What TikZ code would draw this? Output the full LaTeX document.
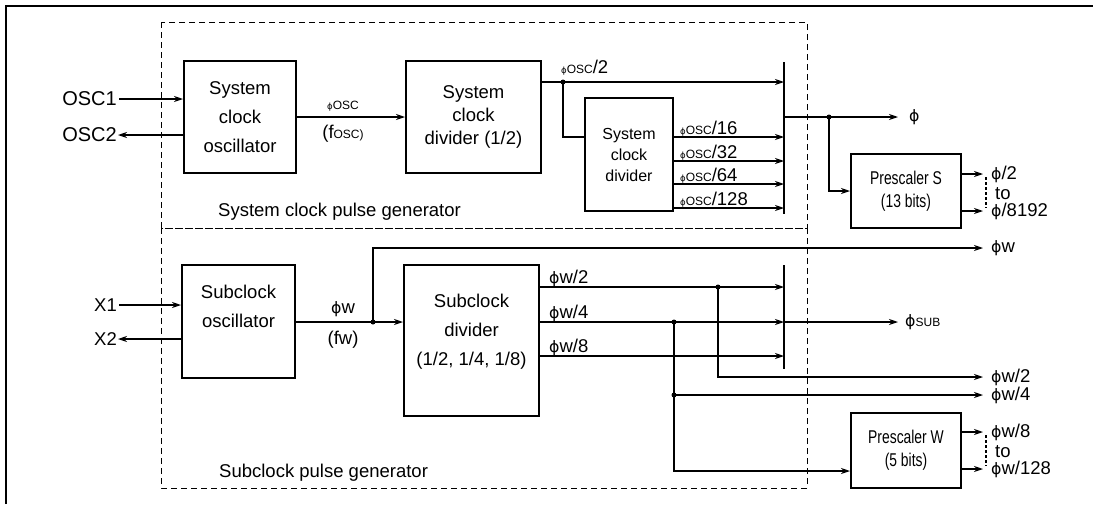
\documentclass[tikz,border=0pt]{standalone}
\usepackage{fontspec}
\setmainfont{Liberation Sans}
\newfontfamily\phifont[Scale=0.85]{DejaVu Sans}
\newfontfamily\condfont[FakeStretch=0.75]{Liberation Sans}
\usetikzlibrary{arrows.meta}
\newcommand\ph{{\phifont ϕ}}
\newcommand\tinyph{{\fontsize{10}{11}\selectfont\phifont ϕ}}
\newcommand\osc{{\fontsize{12}{13}\selectfont OSC}}
\begin{document}
\begin{tikzpicture}[x=1pt,y=-1pt,font=\fontsize{18.5}{23}\selectfont,
  blk/.style={draw,line width=2pt,align=center,inner sep=0pt},
  arr/.style={-{Stealth[length=9pt,width=6pt]},line width=1.1pt},
  wire/.style={line width=1.1pt},
  dot/.style={circle,fill,inner sep=0pt,minimum size=5pt},
  lbl/.style={inner sep=0pt},
  area/.style={dash pattern=on 6pt off 4pt,line width=1pt}]
  \useasboundingbox (0,0) rectangle (1093,504);
  \draw[line width=2.4pt] (6,504) -- (6,6) -- (1093,6);

  \draw[area] (161,22) rectangle (807,228);
  \draw[area] (161,228) rectangle (807,488);

  % system clock
  \node[blk,minimum width=112pt,minimum height=112pt,font=\fontsize{18.5}{29}\selectfont] (sosc) at (240,117) {System\\clock\\oscillator};
  \node[blk,minimum width=135pt,minimum height=112pt] (sdiv2) at (473.5,117) {System\\clock\\divider (1/2)};
  \node[blk,minimum width=88pt,minimum height=113pt,font=\fontsize{16}{21}\selectfont] (sdiv) at (629,154.5) {System\\clock\\divider};
  \node[blk,minimum width=110pt,minimum height=74pt,font=\condfont\fontsize{18.5}{23}\selectfont] (pres) at (906,191) {Prescaler S\\(13 bits)};

  \node[lbl,anchor=east,font=\fontsize{20}{24}\selectfont] (osc1) at (117,99) {OSC1};
  \node[lbl,anchor=east,font=\fontsize{20}{24}\selectfont] (osc2) at (117,135) {OSC2};
  \draw[arr] (osc1.east) ++(2,0) -- (sosc.west |- osc1.east);
  \draw[arr] (sosc.west |- osc2.east) -- ++(-65,0);

  \draw[arr] (sosc.east) -- (sdiv2.west);
  \node[lbl] (fosc) at (343,106) {\tinyph\osc};
  \node[lbl] (fosc2) at (343,134) {(f{\fontsize{12}{13}\selectfont OSC)}};

  \coordinate (bar1t) at (784,62);
  \coordinate (bar1b) at (784,214);
  \coordinate (j1) at (563,82);
  \coordinate (r16) at (673,137);
  \draw[arr] (sdiv2.east |- j1) -- (bar1t |- j1);
  \node[lbl,anchor=base west] (l2) at (561,73) {\tinyph\osc/2};
  \draw[wire] (j1) |- (sdiv.west |- r16);
  \node[dot] (d1) at (j1) {};
  \foreach \d/\y in {16/137,32/161,64/184,128/208}{
    \draw[arr] (sdiv.east |- 0,\y) -- (bar1t |- 0,\y);
    \node[lbl,anchor=base west] (l\d) at (680,\y-3) {\tinyph\osc/\d};
  }
  \draw[line width=2pt] (bar1t) -- (bar1b);

  \coordinate (j2) at (829,117);
  \coordinate (phiend) at (898,117);
  \draw[arr] (bar1t |- j2) -- (phiend);
  \draw[arr] (j2) |- (pres.west);
  \node[dot] (d2) at (j2) {};
  \node[lbl,anchor=west] (phi) at (909,117) {\ph};

  \coordinate (ps1) at (983,174);
  \coordinate (ps2) at (983,211);
  \draw[arr] (pres.east |- ps1) -- (ps1);
  \draw[arr] (pres.east |- ps2) -- (ps2);
  \draw[wire,dash pattern=on 3pt off 2pt] (ps1) ++(3,3) -- ++(0,31);
  \node[lbl,anchor=west] (phi2) at (991,174) {\ph/2};
  \node[lbl,anchor=west] (to1) at (995,194) {to};
  \node[lbl,anchor=west] (phi8192) at (991,211) {\ph/8192};

  \node[lbl,anchor=base west] (sysgen) at (218,216) {System clock pulse generator};

  % subclock
  \node[blk,minimum width=113pt,minimum height=113pt,font=\fontsize{18.5}{29}\selectfont,text depth=31pt] (subosc) at (238.5,321.5) {Subclock\\oscillator};
  \node[blk,minimum width=135pt,minimum height=151pt,font=\fontsize{18.5}{29}\selectfont,text depth=22pt] (subdiv) at (471.5,340.5) {Subclock\\divider\\(1/2, 1/4, 1/8)};
  \node[blk,minimum width=110pt,minimum height=75pt,font=\condfont\fontsize{18.5}{23}\selectfont] (presw) at (906,450.5) {Prescaler W\\(5 bits)};

  \node[lbl,anchor=east] (x1) at (117,305) {X1};
  \node[lbl,anchor=east] (x2) at (117,339) {X2};
  \draw[arr] (x1.east) ++(2,0) -- (subosc.west |- x1.east);
  \draw[arr] (subosc.west |- x2.east) -- ++(-63,0);

  \coordinate (j3) at (373,322);
  \coordinate (phiwend) at (983,248);
  \draw[arr] (subosc.east |- j3) -- (subdiv.west |- j3);
  \draw[arr] (j3) |- (phiwend);
  \node[dot] (d3) at (j3) {};
  \node[lbl] (fw) at (343,309) {\ph w};
  \node[lbl] (fw2) at (343,340) {(fw)};
  \node[lbl,anchor=west] (phiw) at (991,248) {\ph w};

  \coordinate (bar2t) at (784,265);
  \coordinate (bar2b) at (784,369);
  \foreach \d/\y in {2/287,4/322,8/356}{
    \draw[arr] (subdiv.east |- 0,\y) -- (bar2t |- 0,\y);
    \node[lbl,anchor=base west] (lw\d) at (549,\y-4) {\ph w/\d};
  }
  \draw[line width=2pt] (bar2t) -- (bar2b);

  \coordinate (subend) at (898,322);
  \draw[arr] (bar2t |- subend) -- (subend);
  \node[lbl,anchor=west] (phisub) at (905,322) {\ph{\fontsize{12}{13}\selectfont SUB}};

  \coordinate (j4) at (718,287);
  \coordinate (j5) at (674,322);
  \coordinate (j6) at (674,395);
  \coordinate (j7) at (674,471);
  \coordinate (w2end) at (983,377);
  \coordinate (w4end) at (983,395);
  \draw[arr] (j4) |- (w2end);
  \draw[arr] (j6) -- (w4end);
  \draw[arr] (j5) -- (j7) -- (presw.west |- j7);
  \node[dot] (d4) at (j4) {};
  \node[dot] (d5) at (j5) {};
  \node[dot] (d6) at (j6) {};
  \node[lbl,anchor=west] (phiw2) at (991,377) {\ph w/2};
  \node[lbl,anchor=west] (phiw4) at (991,395) {\ph w/4};

  \coordinate (pw1) at (983,432);
  \coordinate (pw2) at (983,469);
  \draw[arr] (presw.east |- pw1) -- (pw1);
  \draw[arr] (presw.east |- pw2) -- (pw2);
  \draw[wire,dash pattern=on 3pt off 2pt] (pw1) ++(3,3) -- ++(0,31);
  \node[lbl,anchor=west] (phiw8) at (991,432) {\ph w/8};
  \node[lbl,anchor=west] (to2) at (995,452) {to};
  \node[lbl,anchor=west] (phiw128) at (991,469) {\ph w/128};

  \node[lbl,anchor=base west] (subgen) at (219,477) {Subclock pulse generator};
\end{tikzpicture}
\end{document}
